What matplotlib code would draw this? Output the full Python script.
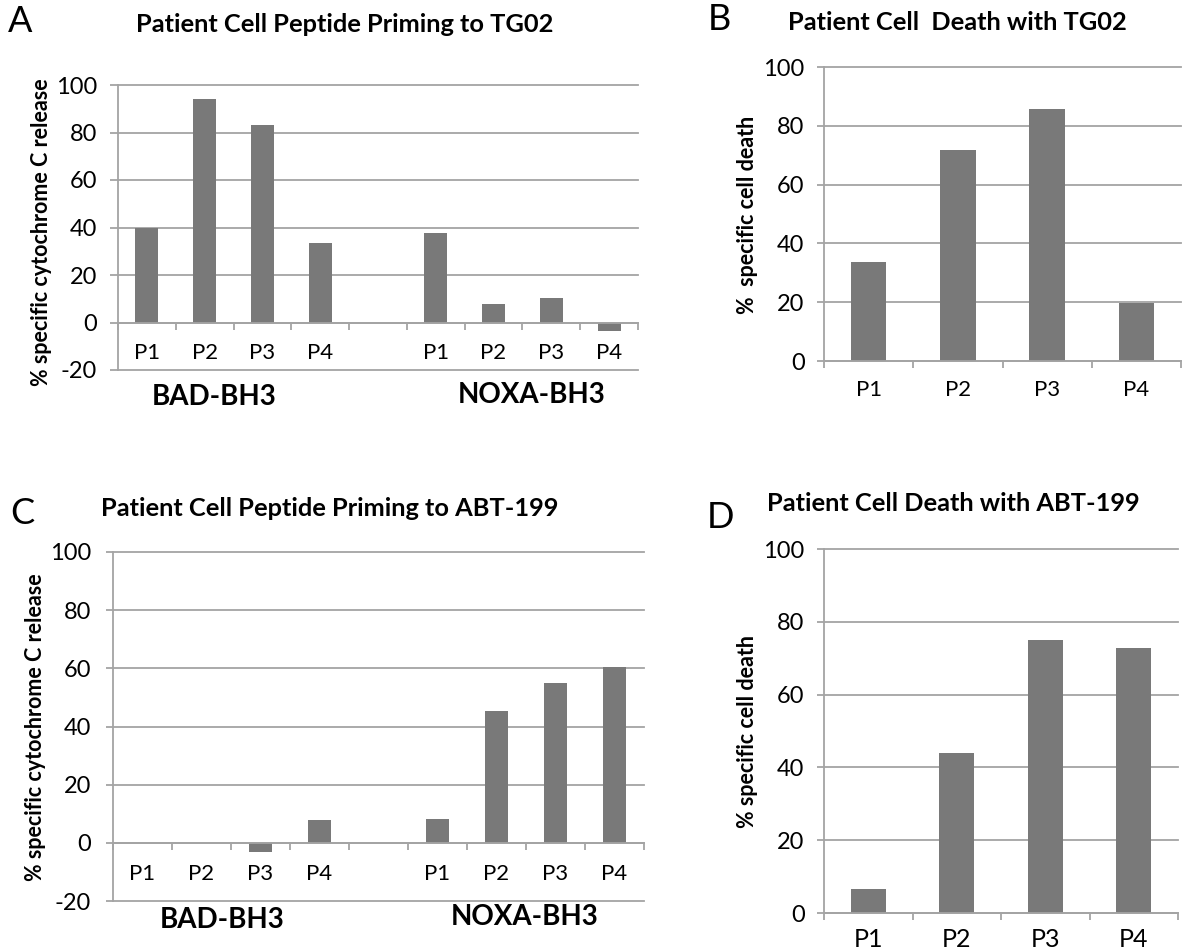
import numpy as np
import matplotlib
matplotlib.use('Agg')
import matplotlib.pyplot as plt

plt.rcParams['font.family'] = ['Lato', 'DejaVu Sans']
plt.rcParams['axes.unicode_minus'] = False

# values
patients = ['P1', 'P2', 'P3', 'P4']
bad_tg02 = [40.0, 94.1, 83.2, 33.6]
noxa_tg02 = [37.8, 8.0, 10.5, -3.4]
death_tg02 = [33.7, 71.7, 85.8, 19.8]
bad_abt = [0.0, 0.0, -3.1, 7.8]
noxa_abt = [8.1, 45.4, 54.8, 60.3]
death_abt = [6.5, 44.0, 75.0, 72.9]

BAR = '#797979'
LINE = '#a4a4a4'
W, H = 1182, 951


def rect(left, top, right, bottom):
    # pixel box -> figure fraction
    return [left / W, 1 - bottom / H, (right - left) / W, (bottom - top) / H]


def put(fig, x, y, s, **kw):
    fig.text(x / W, 1 - y / H, s, ha='center', va='center', **kw)


def common(ax, xfs, xpad, ypad, ylen):
    for s in ['top', 'right']:
        ax.spines[s].set_visible(False)
    for s in ['left', 'bottom']:
        ax.spines[s].set_color(LINE)
        ax.spines[s].set_linewidth(1.3)
    ax.yaxis.grid(True, color=LINE, lw=1.3)
    ax.set_axisbelow(True)
    for ln in ax.get_ygridlines():
        ln.set_clip_on(False)
    ax.tick_params(axis='y', length=ylen, width=1.3, color=LINE,
                   labelsize=17, pad=ypad)
    ax.tick_params(axis='x', which='major', length=0, labelsize=xfs, pad=xpad)
    ax.tick_params(axis='x', which='minor', length=5, width=1.3, color=LINE)


def priming(ax, bad, noxa, ypad, ylen):
    x_bad = np.arange(4)
    x_noxa = np.arange(5, 9)
    ax.bar(x_bad, bad, 0.4, color=BAR)
    ax.bar(x_noxa, noxa, 0.4, color=BAR)
    ax.set_xlim(-0.5, 8.5)
    ax.set_ylim(-20, 100)
    ax.set_yticks(range(-20, 101, 20))
    ax.set_xticks(np.r_[x_bad, x_noxa])
    ax.set_xticklabels(patients * 2)
    ax.set_xticks(np.arange(-0.5, 9), minor=True)
    ax.spines['bottom'].set_position(('data', 0))
    common(ax, 16, 15, ypad, ylen)


def death(ax, vals, xfs, xpad):
    x = np.arange(4)
    ax.bar(x, vals, 0.4, color=BAR)
    ax.set_xlim(-0.5, 3.5)
    ax.set_ylim(0, 100)
    ax.set_yticks(range(0, 101, 20))
    ax.set_xticks(x)
    ax.set_xticklabels(patients)
    ax.set_xticks(np.arange(-0.5, 4), minor=True)
    common(ax, xfs, xpad, 9, 5)


fig = plt.figure(figsize=(W / 100, H / 100), dpi=100)

ax_a = fig.add_axes(rect(118, 85, 638, 370))
priming(ax_a, bad_tg02, noxa_tg02, 9, 6)
ax_b = fig.add_axes(rect(824, 67, 1181, 361))
death(ax_b, death_tg02, 16, 14)
ax_c = fig.add_axes(rect(113, 552, 644, 901))
priming(ax_c, bad_abt, noxa_abt, 11, 5)
ax_d = fig.add_axes(rect(824, 549, 1178, 913))
death(ax_d, death_abt, 18, 11)

title_kw = dict(fontsize=18.3, fontweight='bold')
put(fig, 345, 25, 'Patient Cell Peptide Priming to TG02', **title_kw)
put(fig, 957, 22, 'Patient Cell  Death with TG02', **title_kw)
put(fig, 330, 508, 'Patient Cell Peptide Priming to ABT-199', **title_kw)
put(fig, 953, 503, 'Patient Cell Death with ABT-199', **title_kw)

for x, y, s in [(20, 22, 'A'), (719, 20, 'B'), (22, 514, 'C'), (721, 517, 'D')]:
    put(fig, x, y, s, fontsize=26)

ylab_kw = dict(fontsize=15.5, fontweight='bold', rotation=90)
put(fig, 42, 232, '% specific cytochrome C release', **ylab_kw)
put(fig, 748, 215, '%  specific cell death', **ylab_kw)
put(fig, 36, 727, '% specific cytochrome C release', **ylab_kw)
put(fig, 748, 732, '% specific cell death', **ylab_kw)

grp_kw = dict(fontsize=20, fontweight='bold')
put(fig, 214, 397, 'BAD-BH3', **grp_kw)
put(fig, 532, 395, 'NOXA-BH3', **grp_kw)
put(fig, 222, 920, 'BAD-BH3', **grp_kw)
put(fig, 525, 917, 'NOXA-BH3', **grp_kw)

fig.savefig('out.png', dpi=100)
